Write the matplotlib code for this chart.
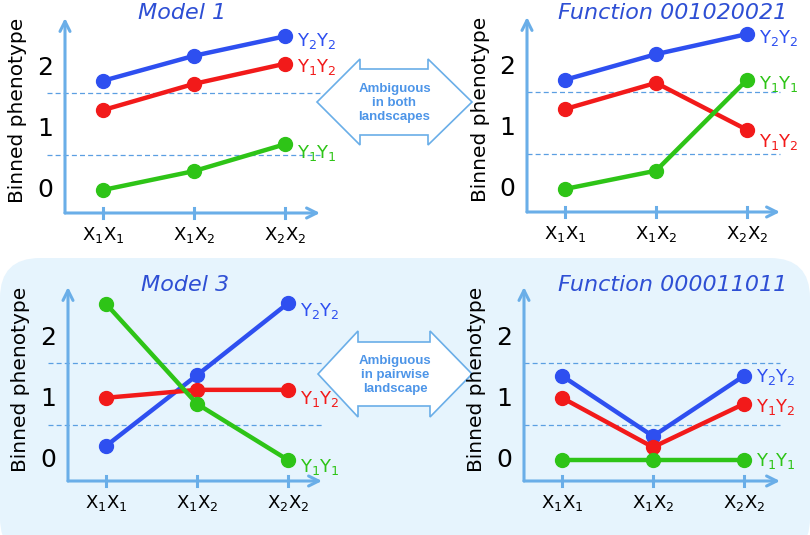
import matplotlib.pyplot as plt
from matplotlib.patches import FancyBboxPatch, Polygon

# genotype categories on the x axis
genotypes = [r'$\mathrm{X_1X_1}$', r'$\mathrm{X_1X_2}$', r'$\mathrm{X_2X_2}$']
series_names = [r'$\mathrm{Y_2Y_2}$', r'$\mathrm{Y_1Y_2}$', r'$\mathrm{Y_1Y_1}$']
titles = ['Model 1', 'Function 001020021', 'Model 3', 'Function 000011011']

# binned phenotype values, order: Y2Y2, Y1Y2, Y1Y1
model1 = [[1.79, 2.20, 2.52], [1.31, 1.74, 2.07], [0.0, 0.31, 0.75]]
func001020021 = [[1.79, 2.21, 2.54], [1.31, 1.74, 0.97], [0.0, 0.30, 1.79]]
model3 = [[0.23, 1.39, 2.57], [1.02, 1.15, 1.15], [2.56, 0.92, 0.0]]
func000011011 = [[1.38, 0.39, 1.38], [1.02, 0.21, 0.92], [0.0, 0.0, 0.0]]
thresholds = [1.59, 0.57]

panels = [model1, func001020021, model3, func000011011]

colors = ['#2e4ff0', '#f21a1a', '#2ec417']
axis_col = '#6aaee8'
dash_col = '#5b9fe2'
W, H = 810, 535

fig = plt.figure(figsize=(W / 100, H / 100), dpi=100)

# background layer in pixel coords
bg = fig.add_axes([0, 0, 1, 1])
bg.set_xlim(0, W)
bg.set_ylim(H, 0)
bg.axis('off')
bg.add_patch(FancyBboxPatch((0, 258), W, 300, boxstyle='round,pad=0,rounding_size=40',
                            fc='#e6f4fd', ec='none'))


def block_arrow(ax, x0, x1, xh0, xh1, yc, head_half, shaft_half, lines):
    pts = [(x0, yc), (xh0, yc - head_half), (xh0, yc - shaft_half), (xh1, yc - shaft_half),
           (xh1, yc - head_half), (x1, yc), (xh1, yc + head_half), (xh1, yc + shaft_half),
           (xh0, yc + shaft_half), (xh0, yc + head_half)]
    ax.add_patch(Polygon(pts, closed=True, fc='white', ec=axis_col, lw=1.2, zorder=5))
    ax.text((x0 + x1) / 2, yc + 1, lines, ha='center', va='center', color='#4d95e8',
            fontsize=9.5, fontweight='bold', linespacing=1.2, zorder=6,
            family='Liberation Sans')


block_arrow(bg, 317, 472, 360, 428, 102, 43, 33, 'Ambiguous\nin both\nlandscapes')
block_arrow(bg, 318, 472, 358, 430, 374, 43, 32, 'Ambiguous\nin pairwise\nlandscape')

# panel boxes in pixels: (left, top, right, bottom), tick x pixel of first category
boxes = [(65, 18, 320, 213), (527, 17, 780, 212), (68, 287, 322, 481), (524, 287, 780, 481)]
first_tick = [103, 565, 106, 562]
zero_px = [190, 189, 460, 460]
dash_left = [47, 527, 48, 524]

for k, (data, box) in enumerate(zip(panels, boxes)):
    l, t, r, b = box
    ax = fig.add_axes([l / W, 1 - b / H, (r - l) / W, (b - t) / H])
    ax.patch.set_alpha(0)
    pxu = 91.0
    ax.set_xlim((l - first_tick[k]) / pxu, (r - first_tick[k]) / pxu)
    ax.set_ylim((zero_px[k] - b) / 61.0, (zero_px[k] - t) / 61.0)
    for s in ax.spines.values():
        s.set_visible(False)
    ax.set_xticks([])
    ax.set_yticks([])

    # axis arrows
    ax.annotate('', xy=(1, 0), xytext=(0, 0), xycoords='axes fraction',
                arrowprops=dict(arrowstyle='->', color=axis_col, lw=2.2, mutation_scale=18,
                                shrinkA=0, shrinkB=0))
    ax.annotate('', xy=(0, 1), xytext=(0, 0), xycoords='axes fraction',
                arrowprops=dict(arrowstyle='->', color=axis_col, lw=2.2, mutation_scale=18,
                                shrinkA=0, shrinkB=0))

    y0, y1 = ax.get_ylim()
    tick_h = 5 / 61.0
    for i, g in enumerate(genotypes):
        ax.plot([i, i], [y0 - tick_h, y0 + tick_h], color=axis_col, lw=2.2, clip_on=False)
        ax.text(i, y0 - 22 / 61.0, g, ha='center', va='center', fontsize=13)

    for v in [0, 1, 2]:
        ax.text(ax.get_xlim()[0] - 12 / pxu, v, str(v), ha='right', va='center', fontsize=18)
    ax.text(ax.get_xlim()[0] - 47 / pxu, (y0 + y1) / 2 + 5 / 61.0, 'Binned phenotype',
            rotation=90, ha='center', va='center', fontsize=14.5)

    x_dash0 = (dash_left[k] - first_tick[k]) / pxu
    for th in thresholds:
        ax.plot([x_dash0, ax.get_xlim()[1]], [th, th], color=dash_col, lw=0.9,
                ls=(0, (4, 2.5)), clip_on=False, zorder=1)

    for j, ys in enumerate(data):
        ax.plot([0, 1, 2], ys, color=colors[j], lw=3.2, marker='o', ms=10,
                clip_on=False, zorder=3)

    # series labels next to the last point
    last = [ys[2] for ys in data]
    lab_y = list(last)
    if k == 0:
        lab_y = [last[0] - 0.07, last[1] - 0.05, last[2] - 0.15]
    elif k == 1:
        lab_y = [last[0] - 0.07, last[1] - 0.2, last[2] - 0.07]
    elif k == 2:
        lab_y = [last[0] - 0.12, last[1] - 0.15, last[2] - 0.12]
    elif k == 3:
        lab_y = [last[0] - 0.02, last[1] - 0.05, last[2] - 0.02]
    for j in range(3):
        ax.text(2 + 12 / pxu, lab_y[j], series_names[j], color=colors[j], ha='left',
                va='center', fontsize=13, clip_on=False)

    # title
    title_x = [(l + r) / 2 - 10, 673, (l + r) / 2 - 10, 673][k]
    title_y = [13, 13, 285, 285][k]
    bg.text(title_x, title_y, titles[k], ha='center', va='center', fontsize=16,
            style='italic', color='#2e4fd4')

fig.savefig('out.png', dpi=100)
